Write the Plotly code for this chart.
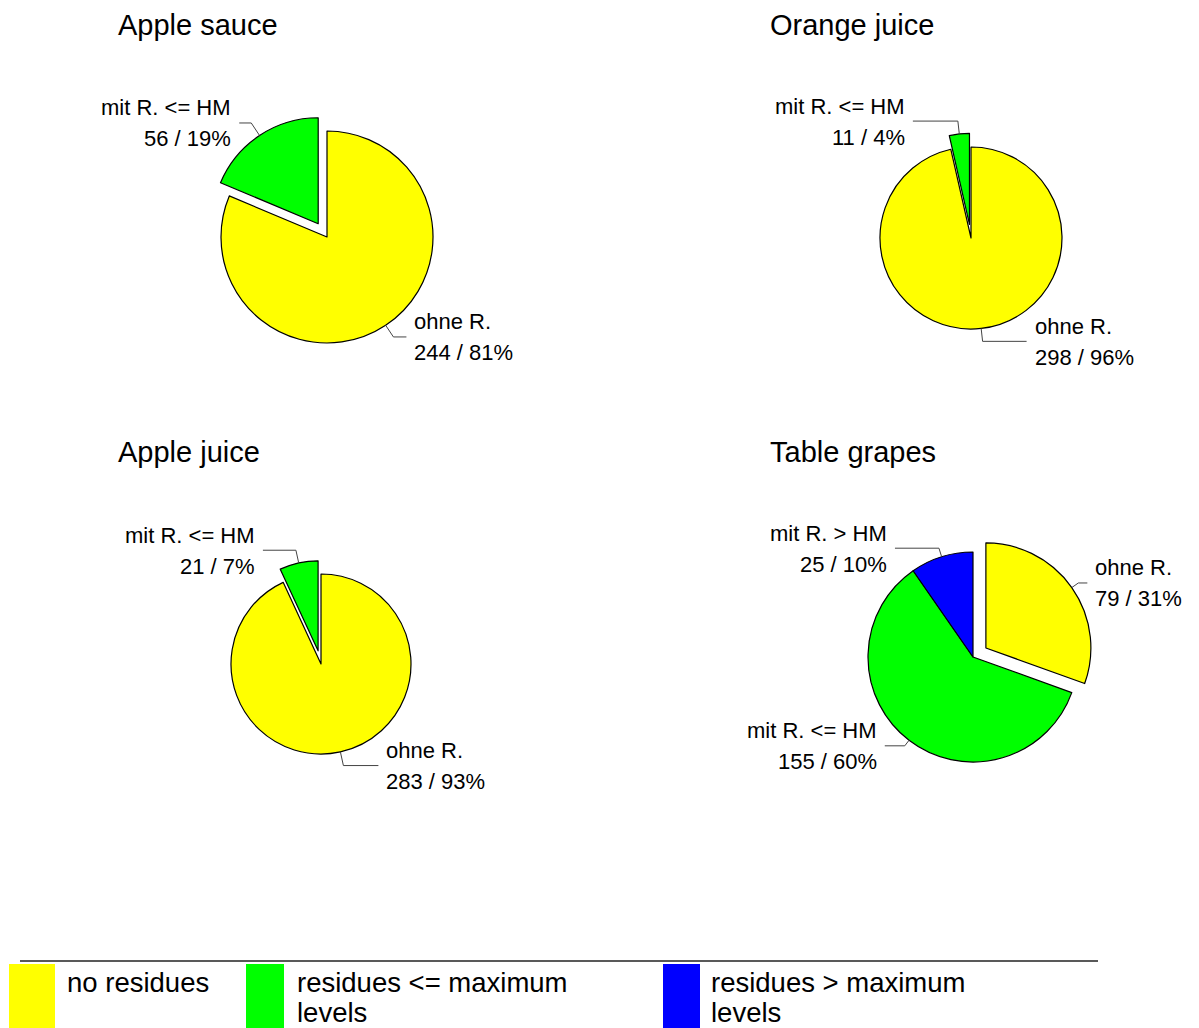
import math
import plotly.graph_objects as go

W, H = 1199, 1028

# ---- data -----------------------------------------------------------------
categories = ["ohne R.", "mit R. <= HM", "mit R. > HM"]
legend_labels = [["no residues"],
                 ["residues <= maximum", "levels"],
                 ["residues > maximum", "levels"]]
colors = ["#FFFF00", "#00FF00", "#0000FF"]

titles = ["Apple sauce", "Orange juice", "Apple juice", "Table grapes"]
apple_sauce = [244, 56, 0]
orange_juice = [298, 11, 0]
apple_juice = [283, 21, 0]
table_grapes = [79, 155, 25]
series = [apple_sauce, orange_juice, apple_juice, table_grapes]

# ---- layout of each pie (pixels) ------------------------------------------
# centre, radius, pulled slice, title position, leader (radial, horizontal) per slice
pie_geo = [
    dict(cx=327, cy=237, r=106, pull=[0, 0.15, 0], title=(116, 25),
         leaders=[(14, 13), (15, 12), None]),
    dict(cx=971, cy=238, r=91, pull=[0, 0.15, 0], title=(768, 25),
         leaders=[(13, 44), (13, 45), None]),
    dict(cx=321, cy=664, r=90, pull=[0, 0.15, 0], title=(116, 452),
         leaders=[(14, 35), (13, 33), None]),
    dict(cx=973, cy=657, r=105, pull=[0.15, 0, 0], title=(768, 452),
         leaders=[(8, 9), (7, 20), (9, 44)]),
]

FONT = "Arial, Liberation Sans, sans-serif"
TITLE_SIZE = 29
LABEL_SIZE = 22
LEGEND_SIZE = 27.5
LEADER_COLOR = "#444444"


def px(x):
    return x / W


def py(y):
    return 1 - y / H


fig = go.Figure()
shapes = []
annotations = []

for name, vals, g in zip(titles, series, pie_geo):
    idx = [i for i, v in enumerate(vals) if v > 0]
    v = [vals[i] for i in idx]
    total = sum(v)
    pulls = [g["pull"][i] for i in idx]
    half = g["r"] * (1 + max(pulls))
    fig.add_trace(go.Pie(
        values=v,
        labels=[categories[i] for i in idx],
        marker=dict(colors=[colors[i] for i in idx],
                    line=dict(color="black", width=1.2)),
        sort=False, direction="clockwise", rotation=0,
        pull=pulls, textinfo="none", showlegend=False,
        hoverinfo="label+value+percent",
        domain=dict(x=[px(g["cx"] - half), px(g["cx"] + half)],
                    y=[py(g["cy"] + half), py(g["cy"] - half)]),
    ))

    annotations.append(dict(
        x=px(g["title"][0]), y=py(g["title"][1]), xref="paper", yref="paper",
        text=name, showarrow=False, xanchor="left", yanchor="middle",
        font=dict(family=FONT, size=TITLE_SIZE, color="black"),
    ))

    # leader lines and slice labels
    cum = 0
    for k, i in enumerate(idx):
        frac = v[k] / total
        mid = math.radians((cum + frac / 2) * 360)
        cum += frac
        ux, uy = math.sin(mid), -math.cos(mid)
        off = g["pull"][i] * g["r"]
        ax = g["cx"] + (off + g["r"]) * ux
        ay = g["cy"] + (off + g["r"]) * uy
        rad, hor = g["leaders"][i]
        ex, ey = ax + rad * ux, ay + rad * uy
        side = 1 if ux > 0 else -1
        hx = ex + side * hor
        shapes.append(dict(
            type="path", xref="paper", yref="paper",
            path=f"M {px(ax)} {py(ay)} L {px(ex)} {py(ey)} L {px(hx)} {py(ey)}",
            line=dict(color=LEADER_COLOR, width=1),
        ))
        pct = round(frac * 100)
        tx = hx + side * 8
        for text, dy in ((categories[i], -15), (f"{vals[i]} / {pct}%", 16)):
            annotations.append(dict(
                x=px(tx), y=py(ey + dy), xref="paper", yref="paper",
                text=text, showarrow=False,
                xanchor="left" if side > 0 else "right", yanchor="middle",
                borderpad=0, borderwidth=0,
                font=dict(family=FONT, size=LABEL_SIZE, color="black"),
            ))

# ---- legend ---------------------------------------------------------------
shapes.append(dict(type="line", xref="paper", yref="paper",
                   x0=px(20), x1=px(1098), y0=py(961), y1=py(961),
                   line=dict(color="#222222", width=1.5)))
legend_boxes = [(9, 55), (246, 284), (663, 700)]
legend_text_x = [67, 297, 711]
for (bx0, bx1), tx, col, lines in zip(legend_boxes, legend_text_x, colors, legend_labels):
    shapes.append(dict(type="rect", xref="paper", yref="paper",
                       x0=px(bx0), x1=px(bx1), y0=py(1028), y1=py(964),
                       fillcolor=col, line=dict(width=0)))
    for j, t in enumerate(lines):
        annotations.append(dict(
            x=px(tx), y=py(982 + 30 * j), xref="paper", yref="paper",
            text=t, showarrow=False, xanchor="left", yanchor="middle",
            borderpad=0, borderwidth=0,
            font=dict(family=FONT, size=LEGEND_SIZE, color="black"),
        ))

fig.update_layout(
    width=W, height=H,
    margin=dict(l=0, r=0, t=0, b=0),
    paper_bgcolor="white", plot_bgcolor="white",
    showlegend=False,
    shapes=shapes,
    annotations=annotations,
)

fig.write_html("out.html", config={"displayModeBar": False})
